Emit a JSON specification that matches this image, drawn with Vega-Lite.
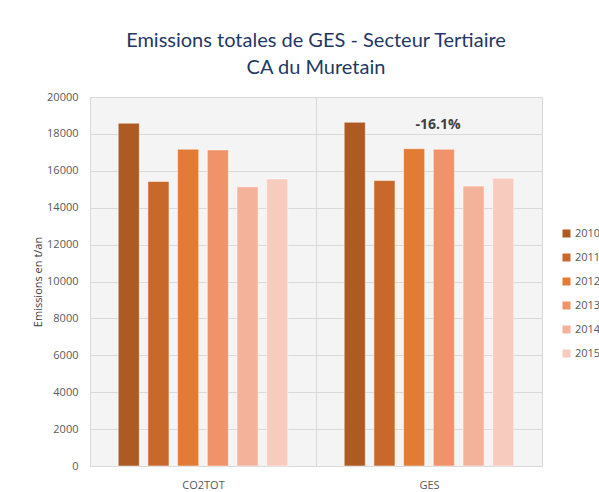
{
  "$schema": "https://vega.github.io/schema/vega-lite/v6.json",
  "autosize": {"type": "none"},
  "padding": {"left": 90, "top": 97, "right": 57, "bottom": 26},
  "width": 452,
  "height": 369,
  "background": "white",
  "config": {
    "font": "Lato",
    "view": {"fill": "#f4f4f4", "stroke": "#d9d9d9"}
  },
  "title": {
    "text": ["Emissions totales de GES - Secteur Tertiaire", "CA du Muretain"],
    "font": "Lato",
    "fontSize": 20,
    "fontWeight": "normal",
    "color": "#1f3864",
    "anchor": "middle",
    "offset": 13,
    "lineHeight": 27
  },
  "data": {
    "values": [
      {"cat": "CO2TOT", "year": "2010", "value": 18580},
      {"cat": "CO2TOT", "year": "2011", "value": 15420},
      {"cat": "CO2TOT", "year": "2012", "value": 17170},
      {"cat": "CO2TOT", "year": "2013", "value": 17130},
      {"cat": "CO2TOT", "year": "2014", "value": 15130},
      {"cat": "CO2TOT", "year": "2015", "value": 15560},
      {"cat": "GES", "year": "2010", "value": 18630},
      {"cat": "GES", "year": "2011", "value": 15470},
      {"cat": "GES", "year": "2012", "value": 17200},
      {"cat": "GES", "year": "2013", "value": 17170},
      {"cat": "GES", "year": "2014", "value": 15170},
      {"cat": "GES", "year": "2015", "value": 15600}
    ]
  },
  "layer": [
    {
      "mark": {"type": "bar", "stroke": "white", "strokeWidth": 0.5},
      "encoding": {
        "x": {
          "field": "cat", "type": "nominal", "title": null,
          "scale": {"paddingInner": 0, "paddingOuter": 0},
          "axis": {"grid": true, "tickBand": "extent", "gridColor": "#d9d9d9", "ticks": false, "domain": false, "labelAngle": 0, "labelFontSize": 11, "labelColor": "#595959", "labelPadding": 13, "labelFont": "Open Sans"}
        },
        "xOffset": {
          "field": "year", "type": "nominal",
          "scale": {"paddingInner": 0.29, "paddingOuter": 0.95}
        },
        "y": {
          "field": "value", "type": "quantitative", "title": "Emissions en t/an",
          "scale": {"domain": [0, 20000]},
          "axis": {"values": [0,2000,4000,6000,8000,10000,12000,14000,16000,18000,20000], "labelOverlap": false, "format": "d", "grid": true, "gridColor": "#d9d9d9", "ticks": false, "domain": false, "labelFontSize": 11, "labelColor": "#595959", "labelPadding": 12, "labelFont": "Open Sans", "titleFontSize": 11, "titleFont": "Open Sans", "titleFontWeight": "normal", "titleColor": "#404040", "titlePadding": 3}
        },
        "color": {
          "field": "year", "type": "nominal", "title": null,
          "scale": {"domain": ["2010","2011","2012","2013","2014","2015"], "range": ["#ae5a23", "#c8692b", "#e27b33", "#f0936a", "#f4b29b", "#f7cbbd"]},
          "legend": {"orient": "none", "legendX": 471, "legendY": 131, "symbolType": "square", "symbolSize": 64, "symbolStrokeWidth": 0, "labelFontSize": 11, "labelColor": "#595959", "labelFont": "Open Sans", "rowPadding": 12, "labelOffset": 3}
        }
      }
    },
    {
      "data": {"values": [{"cat": "GES", "label": "-16.1%"}]},
      "mark": {"type": "text", "fontWeight": "bold", "fontSize": 14, "color": "#404040", "font": "Open Sans", "dx": 9},
      "encoding": {
        "x": {"field": "cat", "type": "nominal"},
        "y": {"datum": 18480, "type": "quantitative", "title": "Emissions en t/an",
          "axis": {"values": [0,2000,4000,6000,8000,10000,12000,14000,16000,18000,20000], "labelOverlap": false, "format": "d", "grid": true, "gridColor": "#d9d9d9", "ticks": false, "domain": false, "labelFontSize": 11, "labelColor": "#595959", "labelPadding": 12, "labelFont": "Open Sans", "titleFontSize": 11, "titleFont": "Open Sans", "titleFontWeight": "normal", "titleColor": "#404040", "titlePadding": 3}},
        "text": {"field": "label"}
      }
    }
  ]
}
